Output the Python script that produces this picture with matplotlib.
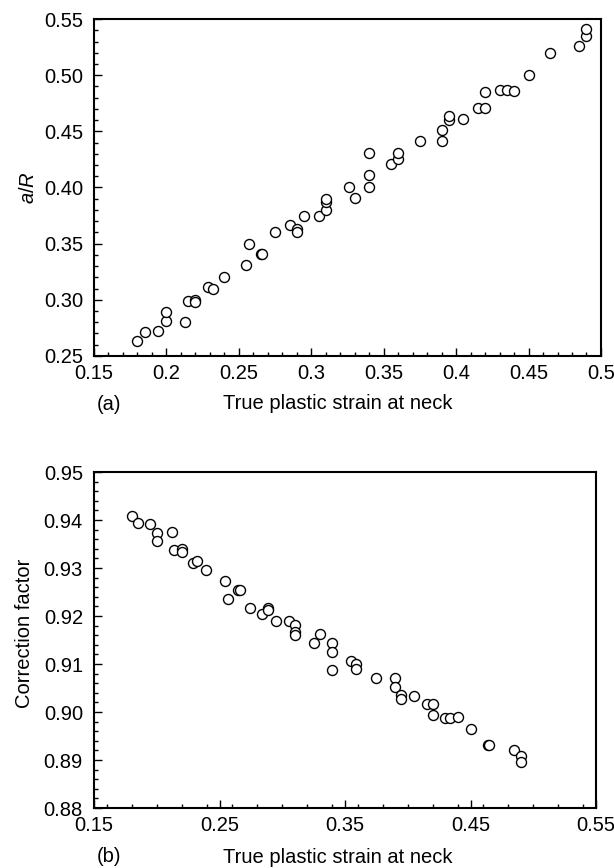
import numpy as np
import matplotlib
matplotlib.use('Agg')
import matplotlib.pyplot as plt
from matplotlib.ticker import MultipleLocator, FormatStrFormatter

plt.rcParams['font.family'] = ['Liberation Sans', 'DejaVu Sans']
plt.rcParams['mathtext.fontset'] = 'custom'
plt.rcParams['mathtext.it'] = 'Liberation Sans:italic'
plt.rcParams['mathtext.rm'] = 'Liberation Sans'

# (a) a/R vs true plastic strain at neck
strain_a = [0.180, 0.185, 0.194, 0.200, 0.200, 0.213, 0.215, 0.220, 0.220, 0.229,
            0.232, 0.240, 0.255, 0.257, 0.265, 0.266, 0.275, 0.285, 0.290, 0.290,
            0.295, 0.305, 0.310, 0.310, 0.310, 0.326, 0.330, 0.340, 0.340, 0.340,
            0.355, 0.360, 0.360, 0.375, 0.390, 0.390, 0.395, 0.395, 0.405, 0.415,
            0.420, 0.420, 0.430, 0.435, 0.440, 0.450, 0.465, 0.485, 0.490, 0.490]
a_over_R = [0.263, 0.271, 0.272, 0.281, 0.289, 0.280, 0.299, 0.300, 0.298, 0.311,
            0.310, 0.320, 0.331, 0.350, 0.341, 0.341, 0.360, 0.367, 0.363, 0.360,
            0.375, 0.375, 0.380, 0.387, 0.390, 0.400, 0.391, 0.431, 0.411, 0.400,
            0.421, 0.425, 0.431, 0.441, 0.441, 0.451, 0.460, 0.464, 0.461, 0.471,
            0.471, 0.485, 0.487, 0.487, 0.486, 0.500, 0.520, 0.526, 0.535, 0.541]

# (b) correction factor vs true plastic strain at neck
strain_b = [0.180, 0.185, 0.195, 0.200, 0.200, 0.212, 0.214, 0.220, 0.220, 0.229,
            0.232, 0.239, 0.254, 0.257, 0.265, 0.266, 0.274, 0.284, 0.289, 0.289,
            0.295, 0.305, 0.310, 0.310, 0.310, 0.325, 0.330, 0.340, 0.340, 0.340,
            0.355, 0.359, 0.359, 0.375, 0.390, 0.390, 0.395, 0.395, 0.405, 0.415,
            0.420, 0.420, 0.430, 0.434, 0.440, 0.450, 0.464, 0.465, 0.485, 0.490,
            0.490]
corr = [0.9408, 0.9393, 0.9391, 0.9373, 0.9356, 0.9375, 0.9337, 0.9339, 0.9334, 0.9311,
        0.9315, 0.9295, 0.9274, 0.9235, 0.9254, 0.9254, 0.9217, 0.9205, 0.9217, 0.9213,
        0.9190, 0.9190, 0.9181, 0.9166, 0.9161, 0.9144, 0.9162, 0.9144, 0.9125, 0.9088,
        0.9107, 0.9100, 0.9089, 0.9070, 0.9070, 0.9052, 0.9036, 0.9028, 0.9034, 0.9016,
        0.9016, 0.8993, 0.8988, 0.8988, 0.8990, 0.8965, 0.8931, 0.8931, 0.8921, 0.8908,
        0.8896]

xticks_a = [0.15, 0.2, 0.25, 0.3, 0.35, 0.4, 0.45, 0.5]
xlabels_a = ['0.15', '0.2', '0.25', '0.3', '0.35', '0.4', '0.45', '0.5']
xticks_b = [0.15, 0.25, 0.35, 0.45, 0.55]

FS = 14.5


def style_axes(ax):
    for s in ax.spines.values():
        s.set_linewidth(1.5)
    ax.tick_params(which='both', direction='in', top=False, right=False,
                   labelsize=FS, width=1.0)
    ax.tick_params(which='major', length=6)
    ax.tick_params(which='minor', length=3)
    ax.tick_params(axis='x', pad=6)
    ax.tick_params(axis='y', pad=8)


fig = plt.figure(figsize=(6.14, 8.68), dpi=100)

ax1 = fig.add_axes([0.1531, 0.590, 0.8257, 0.388])
ax1.plot(strain_a, a_over_R, 'o', mfc='white', mec='black', ms=7.2, mew=1.0)
ax1.set_xlim(0.15, 0.5)
ax1.set_ylim(0.25, 0.55)
ax1.set_xticks(xticks_a)
ax1.set_xticklabels(xlabels_a)
ax1.xaxis.set_minor_locator(MultipleLocator(0.01))
ax1.yaxis.set_major_locator(MultipleLocator(0.05))
ax1.yaxis.set_minor_locator(MultipleLocator(0.01))
ax1.yaxis.set_major_formatter(FormatStrFormatter('%.2f'))
style_axes(ax1)
ax1.set_ylabel('$\\mathit{a}$/$\\mathit{R}$', fontsize=FS, va='center')
ax1.yaxis.set_label_coords(-0.130, 0.50)
ax1.set_xlabel('True plastic strain at neck', fontsize=FS, va='center')
ax1.xaxis.set_label_coords(0.48, -0.142)
fig.text(97 / 614, 1 - 404 / 868, '(a)', fontsize=FS, ha='left', va='center')

ax2 = fig.add_axes([0.1531, 0.0691, 0.8176, 0.3870])
ax2.plot(strain_b, corr, 'o', mfc='white', mec='black', ms=7.2, mew=1.0)
ax2.set_xlim(0.15, 0.55)
ax2.set_ylim(0.88, 0.95)
ax2.set_xticks(xticks_b)
ax2.xaxis.set_minor_locator(MultipleLocator(0.02))
ax2.yaxis.set_major_locator(MultipleLocator(0.01))
ax2.yaxis.set_minor_locator(MultipleLocator(0.002))
ax2.xaxis.set_major_formatter(FormatStrFormatter('%.2f'))
ax2.yaxis.set_major_formatter(FormatStrFormatter('%.2f'))
style_axes(ax2)
ax2.set_ylabel('Correction factor', fontsize=FS, va='center')
ax2.yaxis.set_label_coords(-0.138, 0.52)
ax2.set_xlabel('True plastic strain at neck', fontsize=FS, va='center')
ax2.xaxis.set_label_coords(0.485, -0.146)
fig.text(97 / 614, 1 - 857 / 868, '(b)', fontsize=FS, ha='left', va='center')

fig.savefig('out.png', dpi=100)
